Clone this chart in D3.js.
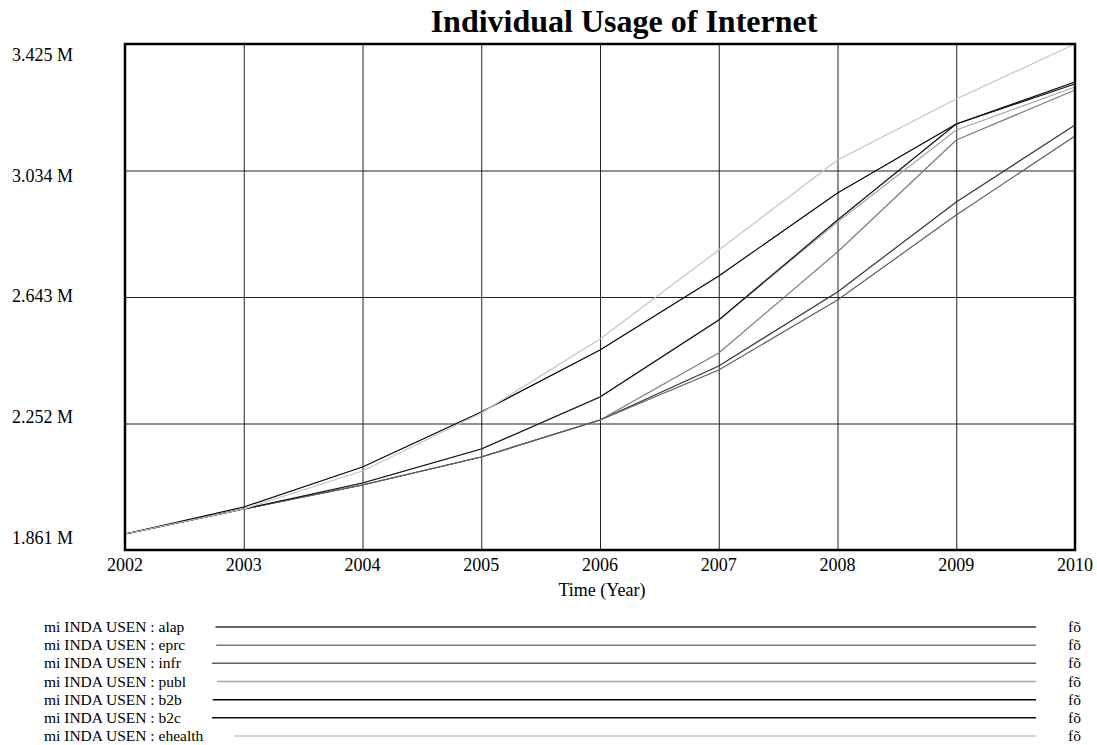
<!DOCTYPE html>
<html>
<head>
<meta charset="utf-8">
<script src="https://cdn.jsdelivr.net/npm/d3@7"></script>
<style>
  body { margin: 0; background: #fff; }
  svg { display: block; font-family: 'Liberation Serif', 'Times New Roman', serif; }
</style>
</head>
<body>
<svg id="chart" width="1097" height="745"></svg>
<script>
const years = [2002, 2003, 2004, 2005, 2006, 2007, 2008, 2009, 2010];
const yTicks = [1.861, 2.252, 2.643, 3.034, 3.425];
const yTickLabels = ['1.861 M', '2.252 M', '2.643 M', '3.034 M', '3.425 M'];

// values in millions
const alap = [1.9105, 1.9877, 2.0619, 2.1485, 2.2628, 2.4297, 2.6585, 2.9367, 3.1747];
const eprc = [1.9105, 1.9877, 2.0619, 2.1485, 2.2628, 2.4699, 2.7821, 3.1283, 3.2829];
const infr = [1.9105, 1.9877, 2.0619, 2.1485, 2.2628, 2.4174, 2.6337, 2.8965, 3.1407];
const publ = [1.9105, 1.9877, 2.0681, 2.1732, 2.3339, 2.5719, 2.8748, 3.1592, 3.2921];
const b2b = [1.9105, 1.9939, 2.1176, 2.2876, 2.4792, 2.7079, 2.9645, 3.1778, 3.3076];
const b2c = [1.9105, 1.9877, 2.0681, 2.1732, 2.3339, 2.5719, 2.881, 3.1778, 3.3014];
const ehealth = [1.9105, 1.9877, 2.1052, 2.2845, 2.5132, 2.7883, 3.0665, 3.2551, 3.425];

const seriesNames = ['alap', 'eprc', 'infr', 'publ', 'b2b', 'b2c', 'ehealth'];
const seriesValues = [alap, eprc, infr, publ, b2b, b2c, ehealth];
const colors = ['#333333', '#7a7a7a', '#5e5e5e', '#a6a6a6', '#000000', '#111111', '#c4c4c4'];
const legendPrefix = 'mi INDA USEN : ';

const width = 1097;
const margin = { top: 44, right: 22, bottom: 195, left: 125 };
const plotBottom = 550;

const svg = d3.select('#chart');

const x = d3.scaleLinear()
  .domain(d3.extent(years))
  .range([margin.left, width - margin.right]);

const y = d3.scaleLinear()
  .domain([yTicks[0], yTicks[yTicks.length - 1]])
  .range([plotBottom, margin.top]);

// labels sit a bit inside the gridlines, like the source tool does it
const yLabel = d3.scaleLinear()
  .domain(y.domain())
  .range([538, 55]);

// title
svg.append('text')
  .attr('x', 624)
  .attr('y', 32)
  .attr('text-anchor', 'middle')
  .attr('font-size', 32)
  .attr('font-weight', 'bold')
  .text('Individual Usage of Internet');

// vertical grid
svg.append('g')
  .attr('transform', `translate(0,${plotBottom})`)
  .call(d3.axisBottom(x).tickValues(years).tickSize(-(plotBottom - margin.top)).tickFormat(''))
  .call((g) => g.select('.domain').remove())
  .call((g) => g.selectAll('.tick line').attr('stroke', '#222').attr('stroke-width', 1));

// horizontal grid
svg.append('g')
  .attr('transform', `translate(${margin.left},0)`)
  .call(d3.axisLeft(y).tickValues(yTicks).tickSize(-(x.range()[1] - margin.left)).tickFormat(''))
  .call((g) => g.select('.domain').remove())
  .call((g) => g.selectAll('.tick line').attr('stroke', '#222').attr('stroke-width', 1));

// x tick labels
svg.append('g')
  .selectAll('text')
  .data(years)
  .join('text')
  .attr('x', (d) => x(d))
  .attr('y', 571)
  .attr('text-anchor', 'middle')
  .attr('font-size', 18)
  .text((d) => d);

// y tick labels
svg.append('g')
  .selectAll('text')
  .data(yTicks)
  .join('text')
  .attr('x', 12)
  .attr('y', (d) => yLabel(d))
  .attr('dy', '0.33em')
  .attr('font-size', 18)
  .text((d, i) => yTickLabels[i]);

svg.append('text')
  .attr('x', 602)
  .attr('y', 596)
  .attr('text-anchor', 'middle')
  .attr('font-size', 18)
  .text('Time (Year)');

// series lines
const line = d3.line()
  .x((d, i) => x(years[i]))
  .y((d) => y(d));

svg.append('g')
  .attr('fill', 'none')
  .attr('stroke-linejoin', 'round')
  .selectAll('path')
  .data(seriesValues)
  .join('path')
  .attr('stroke', (d, i) => colors[i])
  .attr('stroke-width', 1.2)
  .attr('d', line);

// plot frame
svg.append('rect')
  .attr('x', margin.left)
  .attr('y', margin.top)
  .attr('width', x.range()[1] - margin.left)
  .attr('height', plotBottom - margin.top)
  .attr('fill', 'none')
  .attr('stroke', '#000')
  .attr('stroke-width', 2.5);

// legend
const rows = d3.scaleLinear().domain([0, seriesNames.length - 1]).range([627, 736]);

const legend = svg.append('g')
  .selectAll('g')
  .data(seriesNames)
  .join('g')
  .attr('transform', (d, i) => `translate(0,${rows(i)})`);

legend.append('text')
  .attr('x', 44)
  .attr('dy', '0.33em')
  .attr('font-size', 15.5)
  .text((d) => legendPrefix + d);

legend.append('line')
  .attr('x1', function () {
    const t = d3.select(this.parentNode).select('text').node();
    return 44 + t.getComputedTextLength() + 31;
  })
  .attr('x2', 1036)
  .attr('stroke', (d, i) => colors[i])
  .attr('stroke-width', 1.5);

legend.append('text')
  .attr('x', 1068)
  .attr('dy', '0.33em')
  .attr('font-size', 15.5)
  .text('fõ');
</script>
</body>
</html>
